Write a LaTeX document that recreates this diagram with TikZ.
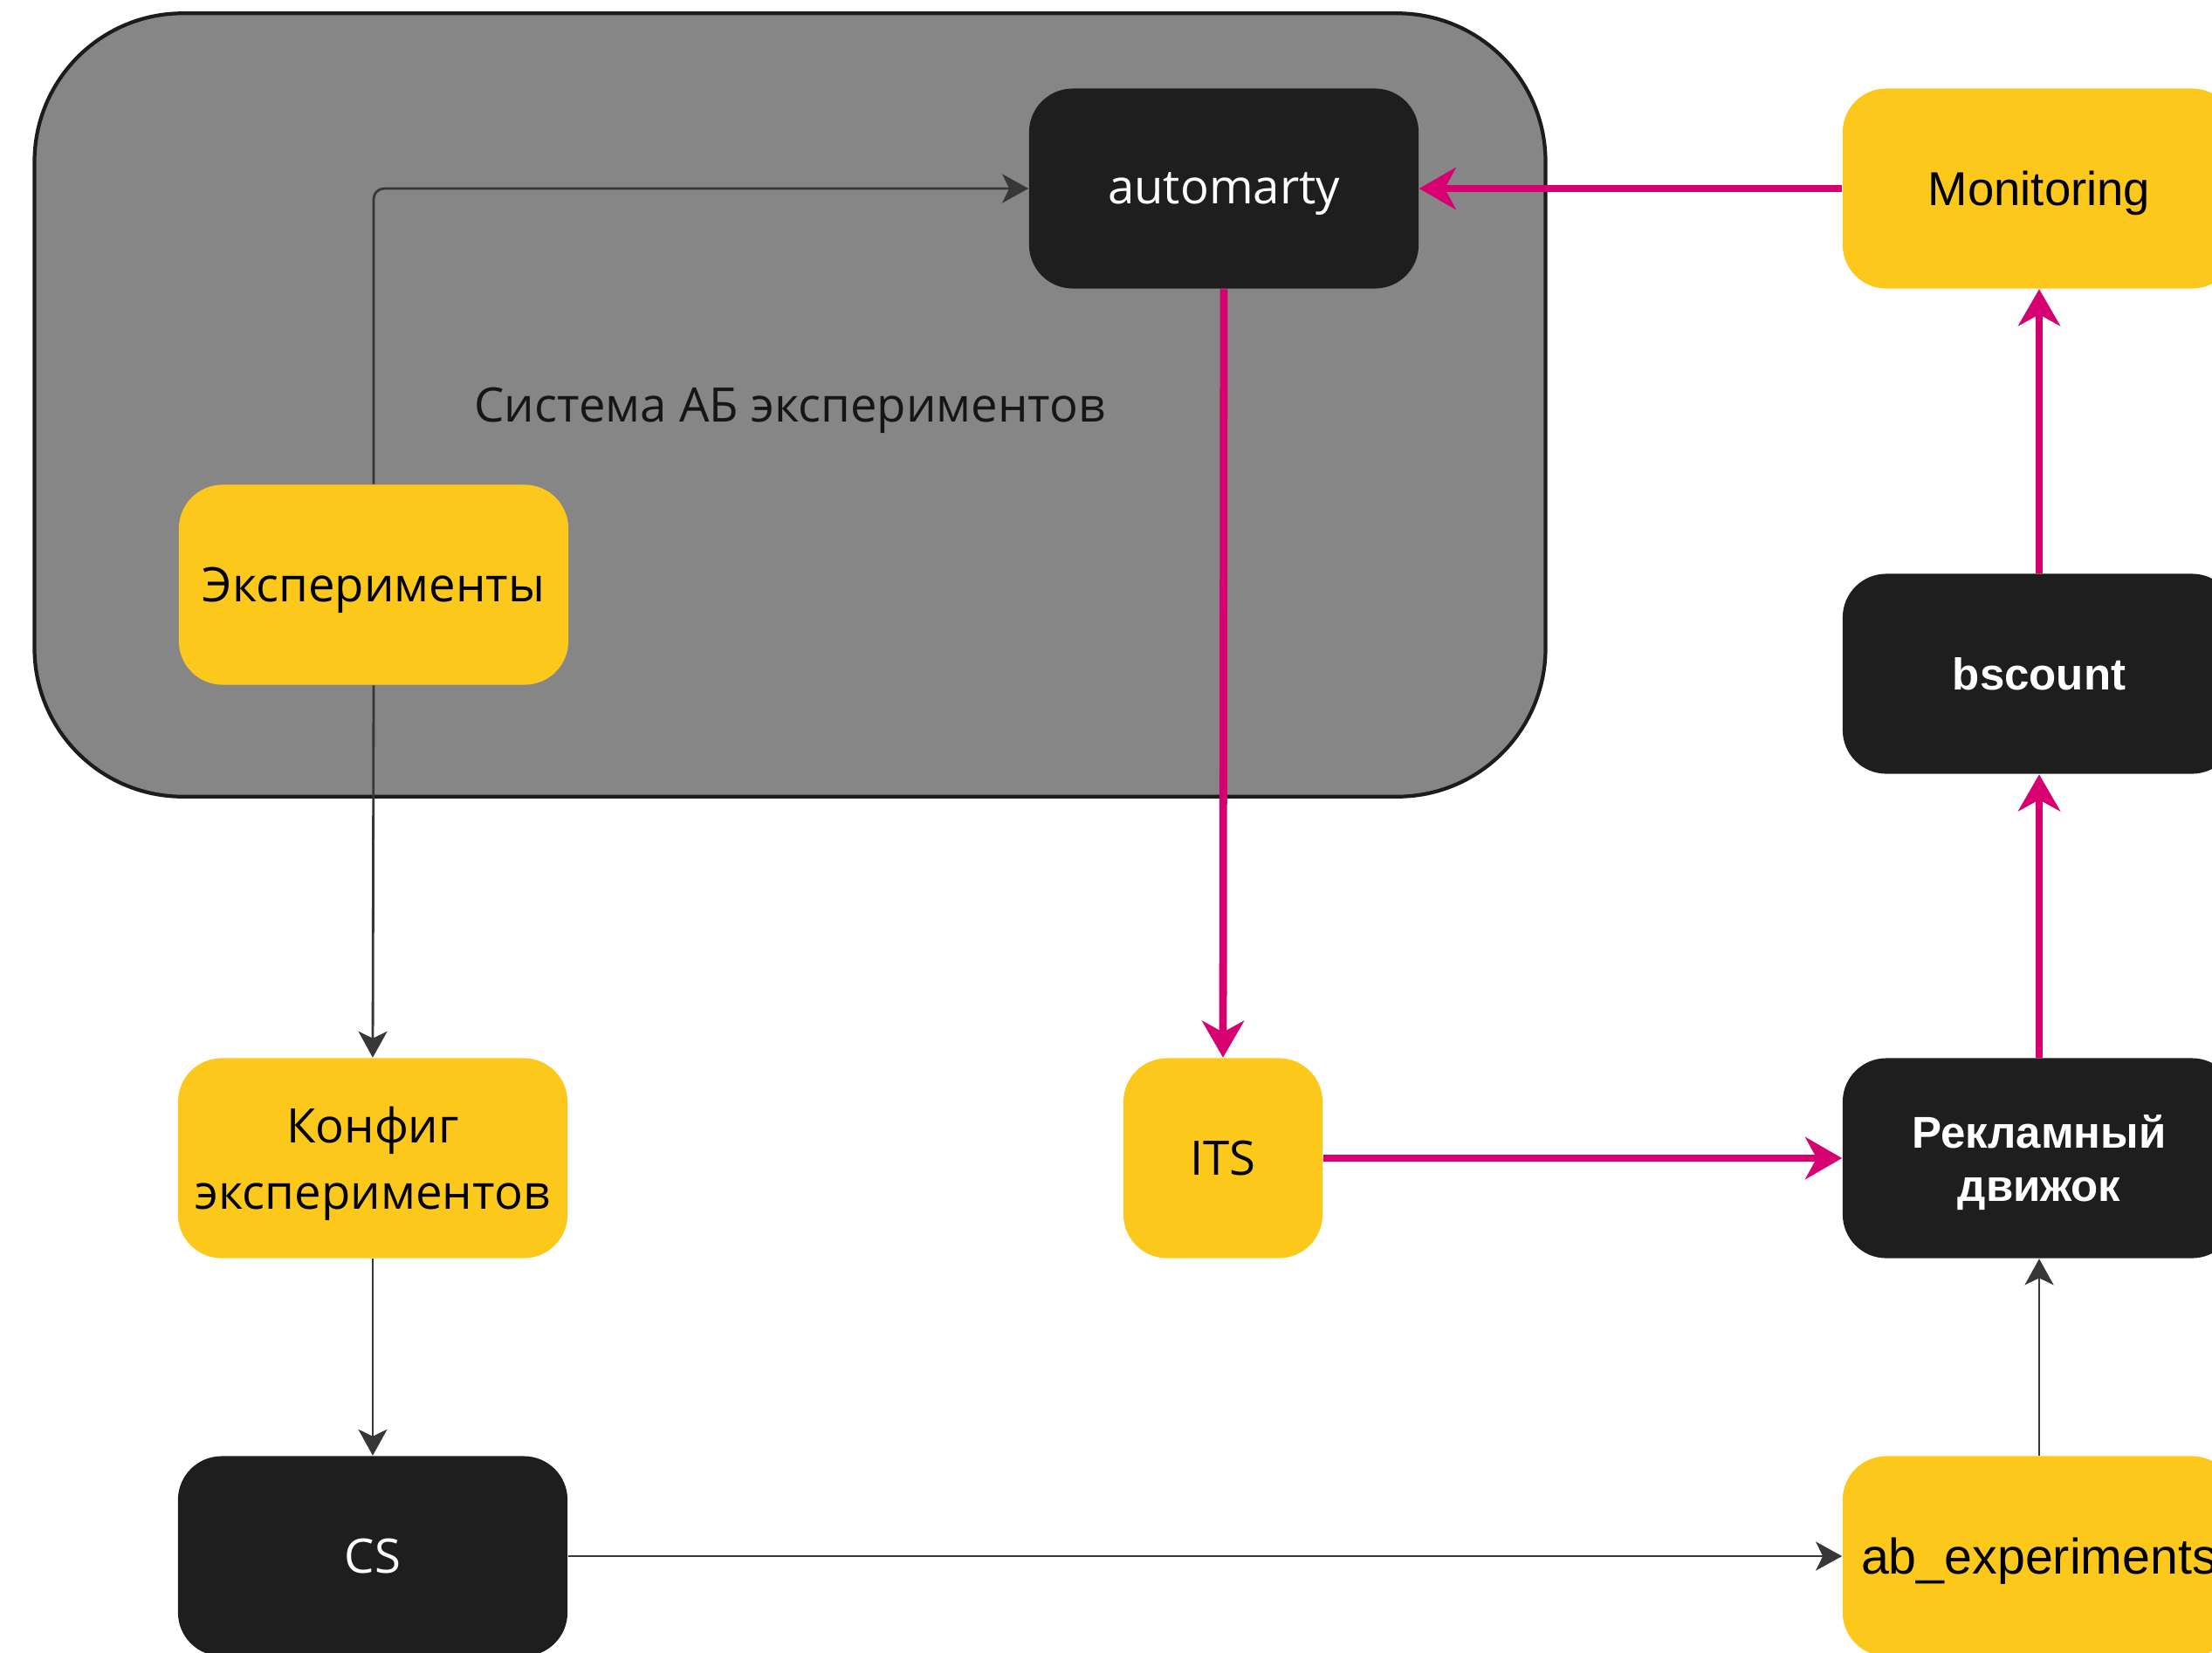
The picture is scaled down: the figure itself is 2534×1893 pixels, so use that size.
\documentclass[tikz,border=0pt]{standalone}
\usepackage{fontspec}
\setmainfont{Open Sans}
\newfontfamily\arialf{Liberation Sans}
\usetikzlibrary{arrows.meta}
\definecolor{abgray}{RGB}{134,134,134}
\definecolor{abborder}{RGB}{28,28,28}
\definecolor{abblack}{RGB}{30,30,30}
\definecolor{abyellow}{RGB}{253,200,28}
\definecolor{abpink}{RGB}{214,0,112}
\definecolor{abline}{RGB}{55,55,55}
\definecolor{abtext}{RGB}{22,22,22}
\begin{document}
\begin{tikzpicture}[x=0.01cm,y=-0.01cm,
  box/.style={rounded corners=0.5cm, minimum width=4.46cm, minimum height=2.29cm, inner sep=0pt, align=center, text depth=0pt},
  yel/.style={box, fill=abyellow, text=black},
  blk/.style={box, fill=abblack, text=white},
  osf/.style={font=\fontsize{15.5}{21.6}\selectfont},
  arf/.style={font=\arialf\fontsize{15.5}{18}\selectfont},
  arb/.style={font=\arialf\bfseries\fontsize{14.5}{17.5}\selectfont},
  pinkarrow/.style={draw=abpink, line width=2.5pt, -{Stealth[length=4.2mm,width=4.8mm,inset=1.3mm]}},
  thinarrow/.style={draw=abline, line width=0.8pt, -{Stealth[length=3mm,width=3.3mm,inset=0.8mm]}}]

\clip (0,0) rectangle (2534,1893);
\fill[white] (0,0) rectangle (2534,1893);

\node[draw=abborder, line width=1.2pt, fill=abgray, rounded corners=1.7cm, text depth=0pt,
      minimum width=17.3cm, minimum height=8.97cm, osf, text=abtext] (sys) at (905,464) {Система АБ экспериментов};

\node[blk, osf] (auto) at (1402,216) {automarty};
\node[yel, arf, minimum width=4.5cm] (mon) at (2336,216) {Monitoring};
\node[blk, arb, minimum width=4.5cm] (bsc) at (2336,772) {bscount};
\node[blk, arb, minimum width=4.5cm] (rek) at (2336,1327) {Рекламный\\движок};
\node[yel, font=\arialf\fontsize{16.3}{18}\selectfont, box, fill=abyellow, text=black, minimum width=4.5cm] (abx) at (2336,1783) {ab\_experiments};
\node[yel, osf] (exp) at (428,670) {Эксперименты};
\node[yel, osf] (cfg) at (427,1327) {Конфиг\\экспериментов};
\node[yel, osf, minimum width=2.28cm] (its) at (1401,1327) {ITS};
\node[blk, osf] (cs) at (427,1783) {CS};

\draw[thinarrow, rounded corners=0.12cm] (exp.north) |- (auto.west);
\draw[thinarrow] (exp.south) -- (cfg.north);
\draw[thinarrow] (cfg.south) -- (cs.north);
\draw[thinarrow] (cs.east) -- (abx.west);
\draw[thinarrow] (abx.north) -- (rek.south);
\draw[pinkarrow] (auto.south) -- (its.north);
\draw[pinkarrow] (mon.west) -- (auto.east);
\draw[pinkarrow] (bsc.north) -- (mon.south);
\draw[pinkarrow] (rek.north) -- (bsc.south);
\draw[pinkarrow] (its.east) -- (rek.west);
\end{tikzpicture}
\end{document}
